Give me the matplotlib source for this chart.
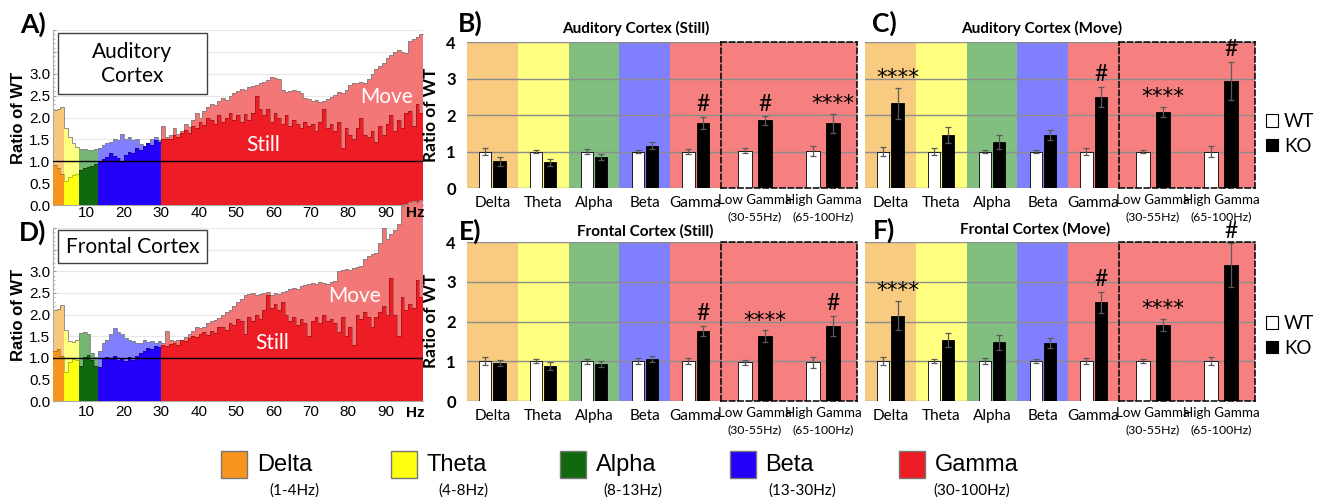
import numpy as np
import matplotlib
matplotlib.use("Agg")
import matplotlib.pyplot as plt
import matplotlib.transforms as mtransforms
from matplotlib.patches import Rectangle, Patch
from matplotlib.ticker import MultipleLocator

# ---------------- data ----------------
band_names = ['Delta', 'Theta', 'Alpha', 'Beta', 'Gamma']
band_ranges = ['(1-4Hz)', '(4-8Hz)', '(8-13Hz)', '(13-30Hz)', '(30-100Hz)']
band_edges = [1, 4, 8, 13, 30, 100]
freq_edges = np.arange(1, 101)          # 1 Hz bins, 1..100 Hz

aud_move = [
    2.18, 2.20, 2.24, 1.75, 1.55, 1.42, 1.32, 1.27, 1.27, 1.26,
    1.25, 1.27, 1.30, 1.38, 1.42, 1.45, 1.52, 1.48, 1.62, 1.50,
    1.55, 1.48, 1.52, 1.40, 1.36, 1.42, 1.50, 1.55, 1.48, 1.80,
    1.55, 1.60, 1.75, 1.62, 1.70, 1.85, 1.78, 1.95, 2.10, 2.00,
    2.15, 2.25, 2.30, 2.28, 2.38, 2.45, 2.40, 2.50, 2.55, 2.60,
    2.65, 2.62, 2.70, 2.72, 2.75, 2.78, 2.82, 2.85, 2.92, 2.90,
    2.88, 2.62, 2.58, 2.60, 2.64, 2.60, 2.55, 2.45, 2.42, 2.38,
    2.40, 2.35, 2.38, 2.42, 2.48, 2.52, 2.58, 2.55, 2.62, 2.75,
    2.80, 2.78, 2.82, 2.80, 2.88, 3.00, 3.10, 3.18, 3.25, 3.35,
    3.42, 3.50, 3.55, 3.50, 3.48, 3.75, 3.80, 3.85, 3.92]
aud_still = [
    0.92, 0.85, 0.70, 0.56, 0.63, 0.68, 0.72, 0.80, 0.85, 0.88,
    0.90, 0.93, 1.00, 1.05, 1.10, 1.20, 1.12, 1.08, 0.98, 1.15,
    1.22, 1.18, 1.30, 1.25, 1.35, 1.42, 1.38, 1.48, 1.45, 1.50,
    1.52, 1.50, 1.60, 1.55, 1.65, 1.72, 1.65, 1.80, 1.75, 1.90,
    1.82, 2.00, 1.95, 1.85, 2.05, 1.90, 2.00, 2.10, 1.95, 2.05,
    1.90, 2.08, 1.95, 2.10, 2.50, 2.20, 2.05, 2.20, 1.90, 2.10,
    2.00, 1.85, 2.05, 1.80, 1.95, 1.85, 1.75, 1.90, 1.80, 1.85,
    1.70, 1.90, 2.20, 1.75, 1.85, 1.70, 1.90, 1.30, 1.75, 1.60,
    1.50, 1.75, 2.00, 1.60, 1.55, 1.70, 1.45, 1.80, 1.60, 1.85,
    2.05, 1.70, 1.95, 1.75, 2.10, 2.15, 1.80, 2.30, 2.10]
fro_move = [
    2.10, 2.12, 2.22, 1.65, 1.38, 1.36, 1.40, 1.58, 1.60, 1.55,
    1.12, 1.02, 1.15, 1.35, 1.42, 1.55, 1.68, 1.60, 1.55, 1.45,
    1.40, 1.38, 1.33, 1.35, 1.40, 1.36, 1.38, 1.35, 1.38, 1.35,
    1.62, 1.40, 1.38, 1.42, 1.40, 1.48, 1.55, 1.62, 1.70, 1.68,
    1.72, 1.80, 1.85, 1.88, 1.92, 1.98, 2.05, 2.10, 2.20, 2.30,
    2.35, 2.45, 2.48, 2.50, 2.45, 2.48, 2.50, 2.52, 2.45, 2.50,
    2.48, 2.52, 2.55, 2.60, 2.62, 2.60, 2.65, 2.68, 2.70, 2.72,
    2.70, 2.75, 2.72, 2.70, 2.75, 2.78, 3.00, 3.02, 3.05, 3.02,
    3.08, 3.10, 3.12, 3.28, 3.35, 3.40, 3.42, 3.65, 4.00, 3.75,
    3.85, 3.95, 4.10, 4.50, 4.55, 4.60, 4.62, 4.60, 4.65]
fro_still = [
    1.15, 1.20, 1.05, 0.68, 0.90, 0.98, 0.95, 0.82, 1.02, 1.06,
    0.95, 0.82, 0.78, 1.00, 1.02, 0.98, 1.05, 0.95, 1.00, 0.92,
    1.02, 0.95, 1.05, 1.12, 1.15, 1.22, 1.20, 1.28, 1.25, 1.30,
    1.28, 1.32, 1.35, 1.30, 1.40, 1.38, 1.45, 1.50, 1.48, 1.55,
    1.60, 1.52, 1.62, 1.58, 1.70, 1.72, 1.65, 1.80, 1.75, 1.90,
    1.85, 1.55, 1.95, 1.85, 2.00, 1.90, 2.10, 2.45, 2.15, 2.25,
    2.10, 2.30, 2.00, 1.85, 1.95, 1.75, 1.90, 1.80, 1.50, 1.85,
    1.95, 1.80, 2.00, 1.85, 1.90, 1.80, 1.60, 1.95, 1.50, 1.70,
    1.30, 2.00, 1.90, 2.05, 1.95, 1.70, 1.95, 2.05, 2.20, 2.00,
    2.85, 2.00, 1.50, 2.40, 2.10, 2.25, 2.15, 2.80, 2.40]

categories = ['Delta', 'Theta', 'Alpha', 'Beta', 'Gamma']
sub_categories = ['Low Gamma', 'High Gamma']
sub_ranges = ['(30-55Hz)', '(65-100Hz)']

aud_still_wt = [1.00, 1.00, 1.00, 1.00, 1.00, 1.02, 1.02]
aud_still_wt_err = [0.10, 0.05, 0.07, 0.05, 0.07, 0.07, 0.13]
aud_still_ko = [0.73, 0.70, 0.85, 1.16, 1.79, 1.85, 1.77]
aud_still_ko_err = [0.12, 0.09, 0.09, 0.09, 0.16, 0.12, 0.27]
aud_still_sig = ['', '', '', '', '#', '#', '****']

aud_move_wt = [1.00, 1.00, 1.00, 1.00, 1.00, 1.00, 1.00]
aud_move_wt_err = [0.12, 0.10, 0.05, 0.04, 0.10, 0.05, 0.15]
aud_move_ko = [2.32, 1.45, 1.26, 1.45, 2.50, 2.09, 2.94]
aud_move_ko_err = [0.43, 0.23, 0.20, 0.14, 0.27, 0.14, 0.52]
aud_move_sig = ['****', '', '', '', '#', '****', '#']

fro_still_wt = [1.00, 1.00, 1.00, 1.00, 1.00, 0.97, 0.97]
fro_still_wt_err = [0.10, 0.05, 0.06, 0.07, 0.07, 0.06, 0.13]
fro_still_ko = [0.95, 0.88, 0.93, 1.05, 1.76, 1.63, 1.89]
fro_still_ko_err = [0.08, 0.09, 0.08, 0.08, 0.13, 0.15, 0.25]
fro_still_sig = ['', '', '', '', '#', '****', '#']

fro_move_wt = [1.00, 1.00, 1.00, 1.00, 1.00, 1.01, 1.00]
fro_move_wt_err = [0.10, 0.05, 0.07, 0.05, 0.07, 0.05, 0.10]
fro_move_ko = [2.15, 1.53, 1.48, 1.46, 2.48, 1.91, 3.42]
fro_move_ko_err = [0.37, 0.17, 0.19, 0.12, 0.27, 0.16, 0.55]
fro_move_sig = ['****', '', '', '', '#', '****', '#']

# ---------------- style ----------------
still_colors = ['#F7941D', '#FFFF10', '#11690F', '#2200FA', '#EE1C25']
move_colors = ['#F8C77E', '#FFFF80', '#74B574', '#8080FF', '#F47777']
bg_colors = ['#F8CB80', '#FFFF80', '#80BF80', '#8080FF', '#F68080']

CAL = ['Lato', 'DejaVu Sans']
ARIAL = ['Liberation Sans', 'DejaVu Sans']
NARROW = ['Liberation Sans Narrow', 'Liberation Sans', 'DejaVu Sans']
STAR = ['DejaVu Sans']

W, H, DPI = 1328, 498, 100
fig = plt.figure(figsize=(W / DPI, H / DPI), dpi=DPI)
fig.patch.set_facecolor('white')
PX = mtransforms.Affine2D().scale(1.0 / W, -1.0 / H).translate(0, 1) + fig.transFigure


def add_ax(l, t, r, b):
    return fig.add_axes([l / W, 1 - b / H, (r - l) / W, (b - t) / H])


def ptext(x, y, s, **kw):
    return fig.text(x, y, s, transform=PX, **kw)


# ---------------- spectra panels (A, D) ----------------
def density(ax, still, move, xpad):
    still = np.asarray(still, float)
    move = np.asarray(move, float)
    for k in range(len(band_names)):
        i0, i1 = band_edges[k] - 1, band_edges[k + 1] - 1
        e = freq_edges[i0:i1 + 1]
        ax.stairs(move[i0:i1], e, baseline=0, fill=True, color=move_colors[k],
                  lw=0, zorder=2, clip_on=False)
        ax.stairs(still[i0:i1], e, baseline=0, fill=True, color=still_colors[k],
                  lw=0, zorder=3)
    ax.stairs(move, freq_edges, baseline=None, color='#808080', lw=0.6,
              zorder=2.5, clip_on=False)
    ax.stairs(still, freq_edges, baseline=None, color='black', alpha=0.3,
              lw=0.6, zorder=3.5)
    ax.axhline(1.0, color='black', lw=1.0, zorder=5)
    ax.set_xlim(1, 100)
    ax.set_ylim(0, 4)
    yt = np.arange(0, 4.01, 0.5)
    ax.set_yticks(yt)
    ax.set_yticklabels([f'{v:.1f}' if v <= 3.0 else '' for v in yt],
                       fontsize=11, family=ARIAL)
    ax.yaxis.set_minor_locator(MultipleLocator(0.1))
    ax.set_xticks(range(10, 100, 10))
    ax.set_xticklabels([str(v) for v in range(10, 100, 10)], fontsize=11,
                       family=ARIAL)
    ax.grid(axis='y', color='#e8e8e8', lw=0.8)
    ax.set_axisbelow(True)
    ax.tick_params(axis='y', which='major', direction='in', length=2.5,
                   color='#999999', pad=2)
    ax.tick_params(axis='y', which='minor', direction='in', length=1.5,
                   color='#aaaaaa')
    ax.tick_params(axis='x', direction='in', length=2, color='#999999', pad=xpad)
    for s in ('top', 'right'):
        ax.spines[s].set_visible(False)
    for s in ('left', 'bottom'):
        ax.spines[s].set_color('#aaaaaa')
        ax.spines[s].set_linewidth(0.8)
    ax.set_ylabel('Ratio of WT', fontsize=12, fontweight='bold', family=ARIAL,
                  labelpad=2)


axA = add_ax(53, 30, 423, 205)
density(axA, aud_still, aud_move, 1.0)
axD = add_ax(53, 228, 423, 401)
density(axD, fro_still, fro_move, 3.0)
for y in (213, 413):
    ptext(415, y, 'Hz', ha='center', va='center', fontsize=11,
          fontweight='bold', family=ARIAL, zorder=9)

for (x0, y0, w, h), txt, cx, cy, ls in [((58, 33, 149, 61), 'Auditory\nCortex', 132.5, 64, 1.25),
                                        ((58, 230, 149, 33), 'Frontal Cortex', 132.5, 247, 1.2)]:
    fig.add_artist(Rectangle((x0, y0), w, h, transform=PX, facecolor='white',
                             edgecolor='#404040', lw=1.0, zorder=6))
    ptext(cx, cy, txt, ha='center', va='center', fontsize=15, family=CAL,
          linespacing=ls, zorder=7)

for x, y, s in [(387, 97, 'Move'), (263, 145, 'Still'), (354, 296, 'Move'), (272, 343, 'Still')]:
    ptext(x, y, s, ha='center', va='center', fontsize=15, color='white',
          family=CAL, zorder=7)

# ---------------- bar panels (B, C, E, F) ----------------
EKW = dict(ecolor='#5a5a5a', elinewidth=0.9, capsize=2.5, capthick=0.9, zorder=4)


def barpanel(l, rm, rs, t, b, title, tx, ty, wt, wt_err, ko, ko_err, sig, show_y):
    axm = add_ax(l, t, rm, b)
    axs = add_ax(rm, t, rs, b)
    n = len(categories)
    xm = np.arange(n)
    xs = np.arange(len(sub_categories))
    for i in range(n):
        axm.axvspan(i - 0.5, i + 0.5, color=bg_colors[i], lw=0, zorder=0)
    axs.set_facecolor(bg_colors[-1])

    axm.bar(xm - 0.14, wt[:n], 0.24, yerr=wt_err[:n], color='white',
            edgecolor='black', lw=0.6, error_kw=EKW, zorder=3)
    axm.bar(xm + 0.14, ko[:n], 0.24, yerr=ko_err[:n], color='black',
            edgecolor='black', lw=0.6, error_kw=EKW, zorder=3)
    axs.bar(xs - 0.147, wt[n:], 0.22, yerr=wt_err[n:], color='white',
            edgecolor='black', lw=0.6, error_kw=EKW, zorder=3)
    axs.bar(xs + 0.147, ko[n:], 0.22, yerr=ko_err[n:], color='black',
            edgecolor='black', lw=0.6, error_kw=EKW, zorder=3)

    for ax, xlo, xhi in [(axm, -0.5, n - 0.5), (axs, -0.5, len(xs) - 0.5)]:
        ax.set_xlim(xlo, xhi)
        ax.set_ylim(0, 4)
        ax.set_yticks([0, 1, 2, 3, 4])
        ax.grid(axis='y', color='#8c8c8c', lw=1.0)
        ax.set_axisbelow(True)
        ax.tick_params(length=0)
    for s in axm.spines.values():
        s.set_visible(False)
    for s in axs.spines.values():
        s.set_color('black')
        s.set_linestyle((0, (3.5, 2)))
        s.set_linewidth(1.1)
        s.set_zorder(6)

    axm.set_xticks(xm)
    axm.set_xticklabels(categories, fontsize=11, family=CAL)
    axm.tick_params(axis='x', pad=6)
    axs.set_xticks(xs)
    axs.set_xticklabels(sub_categories, fontsize=9.6, family=CAL)
    axs.tick_params(axis='x', pad=4.5)
    for i, r in enumerate(sub_ranges):
        axs.annotate(r, xy=(xs[i], 0), xycoords=('data', 'axes fraction'),
                     xytext=(0, -20.5), textcoords='offset points',
                     ha='center', va='center', fontsize=8.8, family=CAL)
    axs.set_yticklabels([])
    if show_y:
        axm.set_yticklabels(['0', '1', '2', '3', '4'], fontsize=12,
                            fontweight='bold', family=CAL)
        axm.tick_params(axis='y', pad=8)
    else:
        axm.set_yticklabels([])

    for i, s in enumerate(sig):
        if not s:
            continue
        if i < n:
            ax, x = axm, xm[i] + 0.14
        else:
            ax, x = axs, xs[i - n] + 0.147
        top = ko[i] + ko_err[i]
        if s == '#':
            ax.annotate(s, xy=(x, top), xytext=(0, 4.0), textcoords='offset points',
                        ha='center', va='baseline', fontsize=16.5, family=CAL,
                        annotation_clip=False, zorder=8)
        else:
            ax.annotate(s, xy=(x, top), xytext=(0, 2.5), textcoords='offset points',
                        ha='center', va='baseline', fontsize=15.5, family=STAR,
                        annotation_clip=False, zorder=8)
    ptext(tx, ty, title, ha='center', va='center', fontsize=11,
          fontweight='bold', family=CAL)
    return axm, axs


barpanel(467, 721, 857, 42, 188, 'Auditory Cortex (Still)', 636, 28,
         aud_still_wt, aud_still_wt_err, aud_still_ko, aud_still_ko_err, aud_still_sig, True)
barpanel(865, 1119, 1255, 42, 188, 'Auditory Cortex (Move)', 1042, 28,
         aud_move_wt, aud_move_wt_err, aud_move_ko, aud_move_ko_err, aud_move_sig, False)
barpanel(467, 721, 857, 242, 401, 'Frontal Cortex (Still)', 645, 231,
         fro_still_wt, fro_still_wt_err, fro_still_ko, fro_still_ko_err, fro_still_sig, True)
barpanel(865, 1119, 1255, 242, 401, 'Frontal Cortex (Move)', 1035, 229,
         fro_move_wt, fro_move_wt_err, fro_move_ko, fro_move_ko_err, fro_move_sig, False)

for y in (115, 321):
    ptext(431, y, 'Ratio of WT', rotation=90, ha='center', va='center',
          fontsize=12.5, fontweight='bold', family=CAL)

# WT / KO legends
handles = [Patch(facecolor='white', edgecolor='black', lw=0.8),
           Patch(facecolor='black', edgecolor='black', lw=0.8)]
for yc in (134, 336):
    fig.legend(handles, ['WT', 'KO'], loc='center left',
               bbox_to_anchor=(1266 / W, 1 - yc / H), frameon=False,
               prop={'family': CAL, 'size': 13.5}, handlelength=0.65,
               handleheight=0.65, handletextpad=0.3, labelspacing=0.4,
               borderpad=0, borderaxespad=0)

# panel letters
for x, y, s in [(33, 24, 'A)'), (33, 232, 'D)'), (470, 23, 'B)'),
                (470, 231, 'E)'), (884, 23, 'C)'), (884, 230, 'F)')]:
    ptext(x, y, s, ha='center', va='center', fontsize=19, fontweight='bold',
          family=CAL)

# bottom colour legend
for k in range(len(band_names)):
    x0 = 221 + k * 169.5
    fig.add_artist(Rectangle((x0, 451), 26, 27, transform=PX,
                             facecolor=still_colors[k], edgecolor='#777777', lw=1.0))
    ptext(x0 + 36, 465, band_names[k], ha='left', va='center', fontsize=17,
          family=NARROW)
    ptext(x0 + 73, 491, band_ranges[k], ha='center', va='center', fontsize=11,
          family=CAL)

fig.savefig('out.png', dpi=DPI, facecolor='white')
